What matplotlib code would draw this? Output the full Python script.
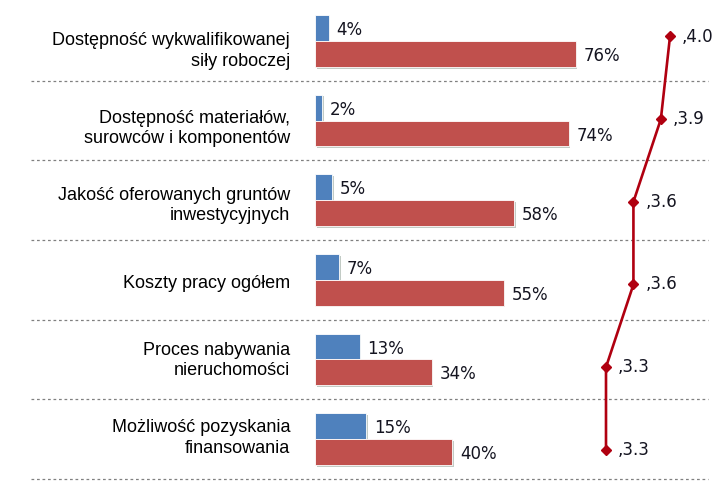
import matplotlib.pyplot as plt
import matplotlib.patheffects as pe
from matplotlib.transforms import blended_transform_factory

# data
categories = [
    "Dostępność wykwalifikowanej\nsiły roboczej",
    "Dostępność materiałów,\nsurowców i komponentów",
    "Jakość oferowanych gruntów\ninwestycyjnych",
    "Koszty pracy ogółem",
    "Proces nabywania\nnieruchomości",
    "Możliwość pozyskania\nfinansowania",
]
blue_vals = [4, 2, 5, 7, 13, 15]
red_vals = [76, 74, 58, 55, 34, 40]
line_vals = [4.0, 3.9, 3.6, 3.6, 3.3, 3.3]

W, H = 724, 486
blue = "#4F81BD"
red = "#C0504D"
line_col = "#B00010"
txt_col = "#141420"

fig = plt.figure(figsize=(W / 100, H / 100), dpi=100)

# background axes in pixel units for the category labels
bg = fig.add_axes([0, 0, 1, 1])
bg.set_xlim(0, W)
bg.set_ylim(H, 0)
bg.axis("off")

# bars
ax = fig.add_axes([315 / W, 0, (W - 315) / W, 1])
ax.patch.set_alpha(0)
px_per_pct = 3.43
ax.set_xlim(0, (W - 315) / px_per_pct)
row0, row_h = 41, 79.6
ax.set_ylim((H - row0) / row_h, -row0 / row_h)
ax.axis("off")

ys = list(range(len(categories)))
bh = 0.325
shadow = [pe.SimplePatchShadow(offset=(1.2, -1.2), shadow_rgbFace="#a9b5ad", alpha=0.7), pe.Normal()]
bb = ax.barh([y - bh / 2 for y in ys], blue_vals, height=bh, color=blue, edgecolor="white", linewidth=0.6)
rb = ax.barh([y + bh / 2 for y in ys], red_vals, height=bh, color=red, edgecolor="white", linewidth=0.6)
for p in list(bb) + list(rb):
    p.set_path_effects(shadow)

for y, v in zip(ys, blue_vals):
    ax.annotate(f"{v}%", (v, y - bh / 2), xytext=(5.5, -1.5), textcoords="offset points",
                ha="left", va="center", fontsize=12, color=txt_col, family="DejaVu Sans")
for y, v in zip(ys, red_vals):
    ax.annotate(f"{v}%", (v, y + bh / 2), xytext=(5.5, -1.5), textcoords="offset points",
                ha="left", va="center", fontsize=12, color=txt_col, family="DejaVu Sans")

# dotted separators
tr = blended_transform_factory(fig.transFigure, ax.transData)
for y in ys:
    ax.plot([31 / W, 708 / W], [y + 0.5, y + 0.5], transform=tr, clip_on=False,
            color="#808080", lw=0.9, dashes=(2.2, 2.2))

# category labels
lab0, lab_h = 51, 77.4
for i, lab in enumerate(categories):
    bg.text(290, lab0 + lab_h * i, lab, ha="right", va="center", fontsize=13,
            family="Liberation Sans", color="black", linespacing=1.25)

# line with diamonds
lx = fig.add_axes([0, 0, 1, 1])
lx.patch.set_alpha(0)
ppu = 91.43
lx.set_xlim(4.0 - 670 / ppu, 4.0 + (W - 670) / ppu)
l0, l_h = 36.5, 82.66
lx.set_ylim((H - l0) / l_h, -l0 / l_h)
lx.axis("off")
lx.plot(line_vals, ys, color=line_col, lw=1.9, marker="D", markersize=5.5,
        markeredgecolor=line_col, markerfacecolor=line_col)
for y, v in zip(ys, line_vals):
    lx.annotate(f",{v:.1f}", (v, y), xytext=(8.5, 0), textcoords="offset points",
                ha="left", va="center", fontsize=12, color=txt_col, family="DejaVu Sans")

fig.savefig("out.png", dpi=100)
